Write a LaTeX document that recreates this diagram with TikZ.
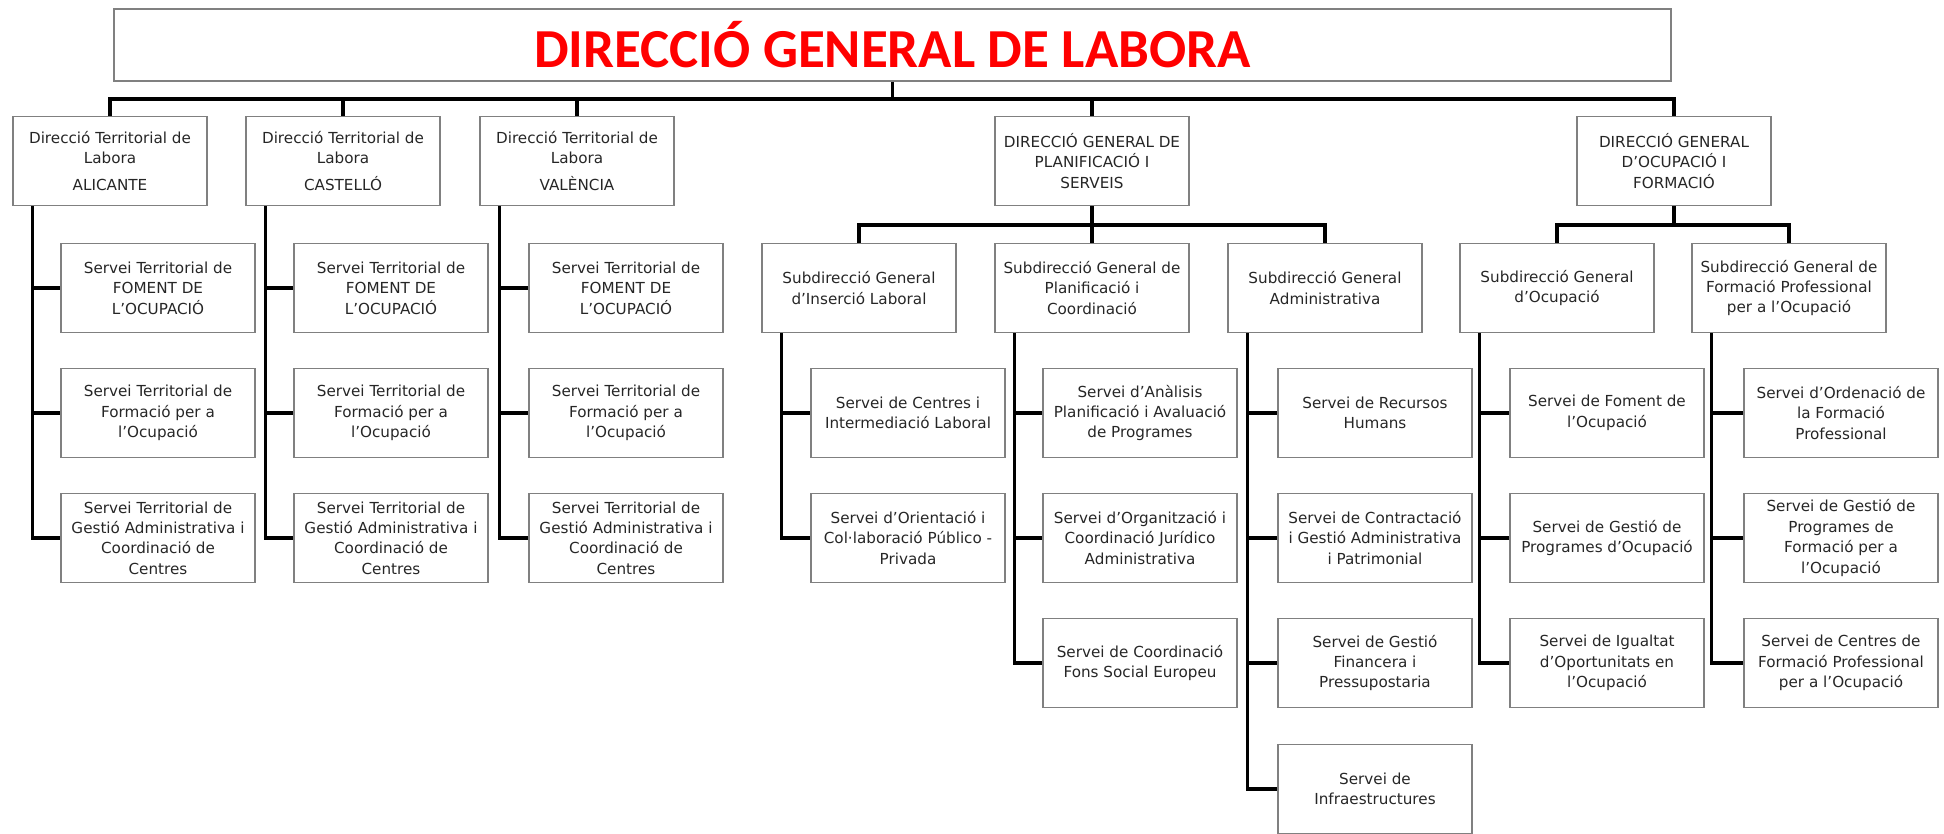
\documentclass[tikz,border=0pt]{standalone}
\usepackage{fontspec}
\setmainfont{DejaVu Sans}
\newfontfamily\titlefont{Carlito}
\begin{document}
\begin{tikzpicture}[x=0.5pt,y=-0.5pt,
  box/.style={draw=black!50, line width=0.8pt, minimum width=97pt, minimum height=44.5pt,
    inner sep=1pt, align=center, text=black!85, font=\fontsize{7.6}{10.2}\selectfont},
  conn/.style={line width=1.6pt, black}]
\useasboundingbox (0,0) rectangle (1944,834);
% title
\node[draw=black!50, line width=0.8pt, minimum width=778.5pt, minimum height=36pt, inner sep=0pt]
  (title) at (892.5,45) {\titlefont\bfseries\fontsize{27.5}{30}\selectfont\color{red}DIRECCIÓ GENERAL DE LABORA};
% level 1
\node[box] (ali) at (110,161) {Direcció Territorial de\\Labora\\[3pt]ALICANTE};
\node[box] (cas) at (343,161) {Direcció Territorial de\\Labora\\[3pt]CASTELLÓ};
\node[box] (val) at (577,161) {Direcció Territorial de\\Labora\\[3pt]VALÈNCIA};
\node[box] (dgp) at (1092,161) {DIRECCIÓ GENERAL DE\\PLANIFICACIÓ I\\SERVEIS};
\node[box] (dgo) at (1674,161) {DIRECCIÓ GENERAL\\D'OCUPACIÓ I\\FORMACIÓ};
% territorial services
\foreach \n/\x in {a/158, c/391, v/626}{
  \node[box] (\n1) at (\x,288) {Servei Territorial de\\FOMENT DE\\L'OCUPACIÓ};
  \node[box] (\n2) at (\x,413) {Servei Territorial de\\Formació per a\\l'Ocupació};
  \node[box] (\n3) at (\x,538) {Servei Territorial de\\Gestió Administrativa i\\Coordinació de\\Centres};
}
% subdireccions
\node[box] (ins) at (859,288) {Subdirecció General\\d'Inserció Laboral};
\node[box] (pic) at (1092,288) {Subdirecció General de\\Planificació i\\Coordinació};
\node[box] (adm) at (1325,288) {Subdirecció General\\Administrativa};
\node[box] (ocu) at (1557,288) {Subdirecció General\\d'Ocupació};
\node[box] (fpr) at (1789,288) {Subdirecció General de\\Formació Professional\\per a l'Ocupació};
% services
\node[box] (i1) at (908,413) {Servei de Centres i\\Intermediació Laboral};
\node[box] (i2) at (908,538) {Servei d'Orientació i\\Col·laboració Público -\\Privada};
\node[box] (p1) at (1140,413) {Servei d'Anàlisis\\Planificació i Avaluació\\de Programes};
\node[box] (p2) at (1140,538) {Servei d'Organització i\\Coordinació Jurídico\\Administrativa};
\node[box] (p3) at (1140,663) {Servei de Coordinació\\Fons Social Europeu};
\node[box] (m1) at (1375,413) {Servei de Recursos\\Humans};
\node[box] (m2) at (1375,538) {Servei de Contractació\\i Gestió Administrativa\\i Patrimonial};
\node[box] (m3) at (1375,663) {Servei de Gestió\\Financera i\\Pressupostaria};
\node[box] (m4) at (1375,789) {Servei de\\Infraestructures};
\node[box] (o1) at (1607,413) {Servei de Foment de\\l'Ocupació};
\node[box] (o2) at (1607,538) {Servei de Gestió de\\Programes d'Ocupació};
\node[box] (o3) at (1607,663) {Servei de Igualtat\\d'Oportunitats en\\l'Ocupació};
\node[box] (f1) at (1841,413) {Servei d'Ordenació de\\la Formació\\Professional};
\node[box] (f2) at (1841,538) {Servei de Gestió de\\Programes de\\Formació per a\\l'Ocupació};
\node[box] (f3) at (1841,663) {Servei de Centres de\\Formació Professional\\per a l'Ocupació};
% connectors: top level
\coordinate (bar0) at (0,99);
\draw[conn] (ali.north) -- (ali.north |- bar0) -- (dgo.north |- bar0) -- (dgo.north);
\foreach \p in {cas,val,dgp}{\draw[conn] (\p.north) -- (\p.north |- bar0);}
\draw[conn] (title.south) -- (title.south |- bar0);
% second level bars
\coordinate (bar1) at (0,225);
\draw[conn] (ins.north) -- (ins.north |- bar1) -- (adm.north |- bar1) -- (adm.north);
\draw[conn] (dgp.south) -- (pic.north);
\draw[conn] (ocu.north) -- (ocu.north |- bar1) -- (fpr.north |- bar1) -- (fpr.north);
\draw[conn] (dgo.south) -- (dgo.south |- bar1);
% spines
\foreach \p/\c in {ali/a1,ali/a2,ali/a3,cas/c1,cas/c2,cas/c3,val/v1,val/v2,val/v3,
  ins/i1,ins/i2,pic/p1,pic/p2,pic/p3,adm/m1,adm/m2,adm/m3,adm/m4,
  ocu/o1,ocu/o2,ocu/o3,fpr/f1,fpr/f2,fpr/f3}{
  \draw[conn] ([xshift=10pt]\p.south west) |- (\c.west);
}
\end{tikzpicture}
\end{document}
